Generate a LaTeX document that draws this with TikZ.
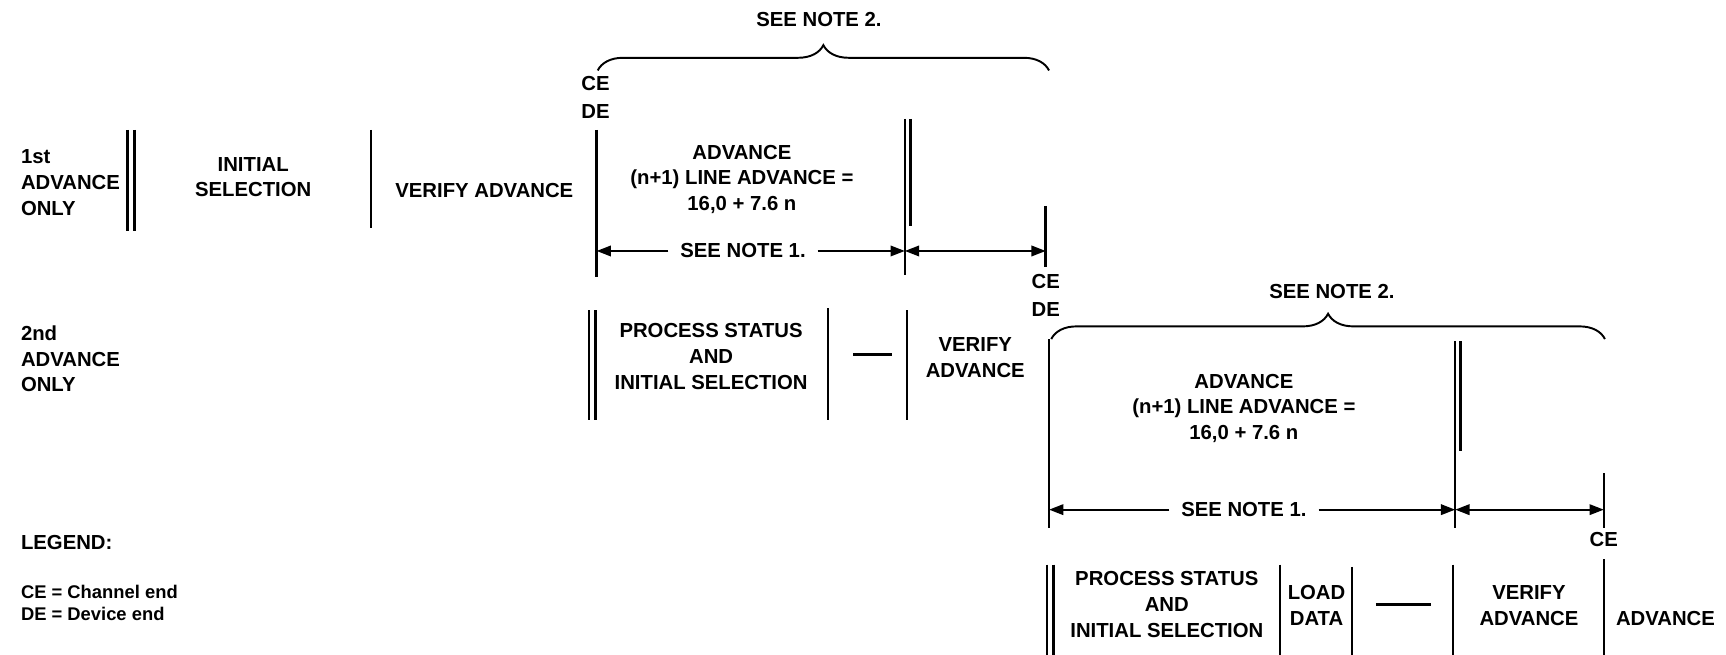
\documentclass[tikz,border=0pt]{standalone}
\usepackage{fontspec}
\setmainfont{Liberation Sans}
\usetikzlibrary{arrows.meta, decorations.pathreplacing}
\tikzset{
    txt/.style={align=center, font=\fontsize{10.5}{13.3}\selectfont\bfseries, inner sep=1pt},
    bar/.style={line width=1.3pt},
    arrow/.style={line width=1.1pt, -{Triangle[length=2.6mm, width=1.9mm]}},
    dimarrow/.style={line width=1.1pt, {Triangle[length=2.6mm, width=1.9mm]}-{Triangle[length=2.6mm, width=1.9mm]}},
    notebrace/.style={decorate, decoration={brace, amplitude=4.6mm}, line width=1pt}
}
\begin{document}
\begin{tikzpicture}[x=0.02cm, y=-0.02cm]
\useasboundingbox (0,0) rectangle (1568,595);
\node[txt, align=left, anchor=west] (row1) at (17,166) {1st\\ADVANCE\\ONLY};
\node[txt] (initsel) at (230,161) {INITIAL\\SELECTION};
\node[txt] (verify1) at (440,173) {VERIFY ADVANCE};
\node[txt] (ce1) at (541,76) {CE};
\node[txt, below of=ce1, node distance=0.5cm] (de1) {DE};
\node[txt] (adv1) at (674,163) {ADVANCE\\(n+1) LINE ADVANCE =\\16,0 + 7.6 n};
\node[txt, inner xsep=6pt] (note1a) at (675,228) {SEE NOTE 1.};
\node[txt] (note2a) at (744,18) {SEE NOTE 2.};
\node[txt] (ce2) at (950,256) {CE};
\node[txt, below of=ce2, node distance=0.5cm] (de2) {DE};
\node[txt, align=left, anchor=west] (row2) at (17,326) {2nd\\ADVANCE\\ONLY};
\node[txt] (pstat1) at (646,324) {PROCESS STATUS\\AND\\INITIAL SELECTION};
\node[txt] (verify2) at (886,325) {VERIFY\\ADVANCE};
\node[txt] (note2b) at (1210,265) {SEE NOTE 2.};
\node[txt] (adv2) at (1130,371) {ADVANCE\\(n+1) LINE ADVANCE =\\16,0 + 7.6 n};
\node[txt, inner xsep=6pt] (note1b) at (1130,463) {SEE NOTE 1.};
\node[txt] (ce3) at (1457,490) {CE};
\node[txt] (pstat2) at (1060,549) {PROCESS STATUS\\AND\\INITIAL SELECTION};
\node[txt] (load) at (1196,550) {LOAD\\DATA};
\node[txt] (verify3) at (1389,550) {VERIFY\\ADVANCE};
\node[txt] (adv3) at (1513,562) {ADVANCE};
\node[txt, anchor=west] (legend) at (17,493) {LEGEND:};
\node[txt, align=left, anchor=west, font=\fontsize{9.5}{11.4}\selectfont\bfseries] (legdef) at (17,548) {CE = Channel end\\DE = Device end};
\draw[bar] (116,118) -- (116,210);
\draw[bar] (122,118) -- (122,210);
\draw[bar] (337,118) -- (337,207);
\draw[bar] (542,118) -- (542,252);
\draw[bar] (822,108) -- (822,250);
\draw[bar] (827,108) -- (827,205);
\draw[bar] (950,187) -- (950,243);
\draw[bar] (535,282) -- (535,382);
\draw[bar] (541,282) -- (541,382);
\draw[bar] (752,280) -- (752,382);
\draw[bar] (775,322) -- (810,322);
\draw[bar] (824,282) -- (824,382);
\draw[bar] (953,308) -- (953,480);
\draw[bar] (1322,310) -- (1322,480);
\draw[bar] (1327,310) -- (1327,410);
\draw[bar] (1457,430) -- (1457,480);
\draw[bar] (951,513) -- (951,595);
\draw[bar] (957,513) -- (957,595);
\draw[bar] (1163,513) -- (1163,595);
\draw[bar] (1228,515) -- (1228,595);
\draw[bar] (1250,549) -- (1300,549);
\draw[bar] (1320,513) -- (1320,595);
\draw[bar] (1457,508) -- (1457,595);
\coordinate (t1a) at (542,228);
\coordinate (t1b) at (822,228);
\coordinate (t1c) at (950,228);
\coordinate (t2a) at (953,463);
\coordinate (t2b) at (1322,463);
\coordinate (t2c) at (1457,463);
\coordinate (br1a) at (543,64);
\coordinate (br1b) at (953,64);
\coordinate (br2a) at (955,308);
\coordinate (br2b) at (1458,308);
\draw[arrow] (note1a) -- (t1a);
\draw[arrow] (note1a) -- (t1b);
\draw[dimarrow] (t1b) -- (t1c);
\draw[arrow] (note1b) -- (t2a);
\draw[arrow] (note1b) -- (t2b);
\draw[dimarrow] (t2b) -- (t2c);
\draw[notebrace] (br1a) -- (br1b);
\draw[notebrace] (br2a) -- (br2b);
\end{tikzpicture}
\end{document}
